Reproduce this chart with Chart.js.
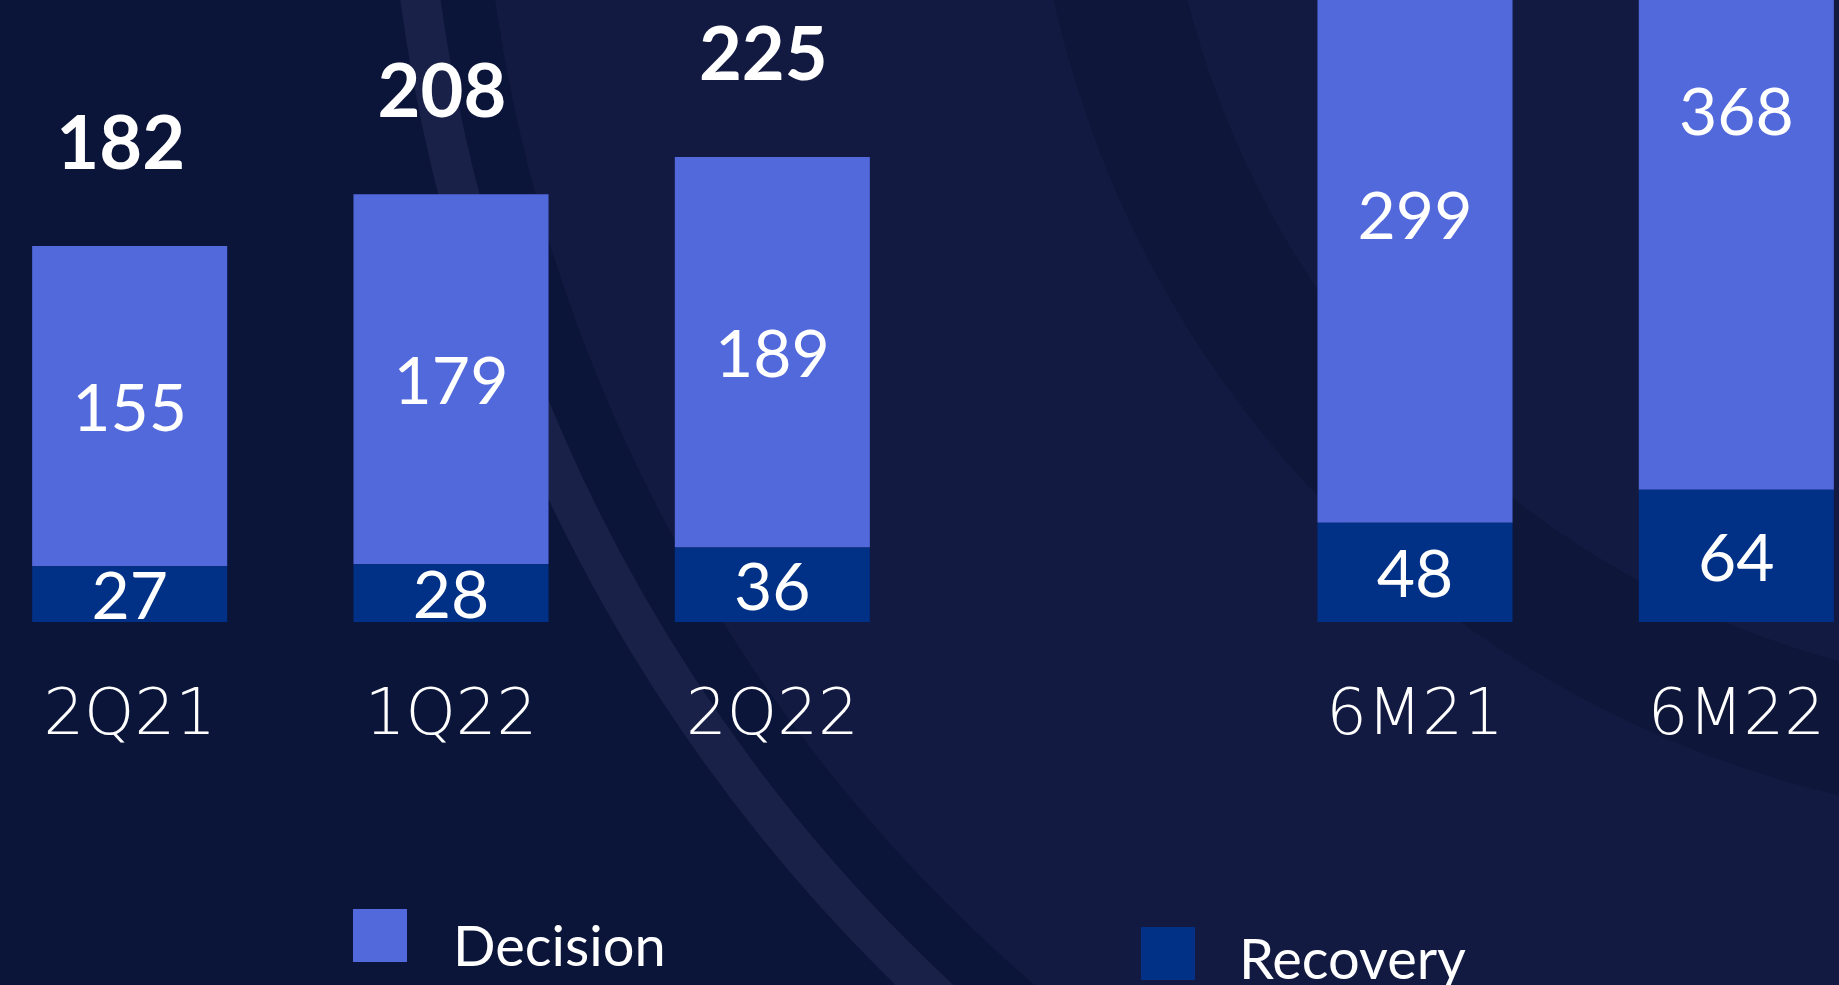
<!DOCTYPE html>
<html><head><meta charset="utf-8">
<script src="https://cdn.jsdelivr.net/npm/chart.js@4/dist/chart.umd.min.js"></script>
<style>
html,body{margin:0;padding:0;width:1839px;height:985px;overflow:hidden;background:#0B1439;}
#bg{position:absolute;left:0;top:0;width:1839px;height:985px;overflow:hidden;}
.circ{position:absolute;border-radius:50%;box-sizing:border-box;}
#wrap{position:absolute;left:-31px;top:0;width:1928px;height:985px;}
</style></head>
<body>
<div id="bg">
  <div class="circ" style="left:479px;top:-1827px;width:3200px;height:3200px;background:#131A41;"></div>
  <div class="circ" style="left:385px;top:-1921px;width:3388px;height:3388px;border:40px solid #192148;"></div>
  <div class="circ" style="left:1029px;top:-1277px;width:2100px;height:2100px;border:130px solid #0E1639;"></div>
</div>
<div id="wrap"><canvas id="c" width="1928" height="985"></canvas></div>
<script>
const categories = ['2Q21', '1Q22', '2Q22', '', '6M21', '6M22'];
const decision = [155, 179, 189, null, 299, 368];
const recovery = [27, 28, 36, null, 48, 64];
const totals = [182, 208, 225, null, 347, 432];
const seriesNames = ['Decision', 'Recovery'];
const decisionColor = '#5269DB';
const recoveryColor = '#003186';

const labelPlugin = {
  id: 'labels',
  afterDatasetsDraw(chart) {
    const ctx = chart.ctx;
    ctx.save();
    ctx.fillStyle = '#FFFFFF';
    ctx.textAlign = 'center';
    ctx.textBaseline = 'alphabetic';
    ctx.font = '400 66px Lato, "Open Sans", sans-serif';
    chart.data.datasets.forEach((ds, di) => {
      const meta = chart.getDatasetMeta(di);
      meta.data.forEach((el, i) => {
        const v = ds.data[i];
        if (v === null || v === undefined) return;
        const cy = (el.y + el.base) / 2;
        ctx.fillText(String(v), el.x, cy + 25);
      });
    });
    const topMeta = chart.getDatasetMeta(1);
    ctx.font = '700 74px Lato, "Open Sans", sans-serif';
    topMeta.data.forEach((el, i) => {
      const t = totals[i];
      if (t === null || t === undefined) return;
      ctx.fillText(String(t), el.x - 9, el.y - 77);
    });
    ctx.restore();
  },
  afterDraw(chart) {
    const ctx = chart.ctx;
    ctx.save();
    const items = [
      { ds: 1, sx: 384, sy: 909, tx: 484, ty: 966 },
      { ds: 0, sx: 1172, sy: 927, tx: 1270, ty: 979 }
    ];
    ctx.font = '400 56px Lato, "Open Sans", sans-serif';
    ctx.textAlign = 'left';
    ctx.textBaseline = 'alphabetic';
    items.forEach(it => {
      const ds = chart.data.datasets[it.ds];
      ctx.fillStyle = ds.backgroundColor;
      ctx.fillRect(it.sx, it.sy, 54, 53);
      ctx.fillStyle = '#FFFFFF';
      ctx.fillText(ds.label, it.tx, it.ty);
    });
    ctx.restore();
  }
};

new Chart(document.getElementById('c'), {
  type: 'bar',
  data: {
    labels: categories,
    datasets: [
      { label: seriesNames[1], data: recovery, backgroundColor: recoveryColor, borderWidth: 0 },
      { label: seriesNames[0], data: decision, backgroundColor: decisionColor, borderWidth: 0 }
    ]
  },
  options: {
    responsive: false,
    animation: false,
    devicePixelRatio: 1,
    layout: { padding: 0 },
    datasets: { bar: { categoryPercentage: 1, barPercentage: 0.607 } },
    plugins: { legend: { display: false }, tooltip: { enabled: false } },
    scales: {
      x: {
        stacked: true,
        grid: { display: false, drawTicks: false },
        border: { display: false },
        ticks: {
          color: '#FFFFFF',
          font: { family: '"DejaVu Sans", Inter, sans-serif', size: 64, weight: 200 },
          padding: 57,
          maxRotation: 0,
          autoSkip: false
        },
        afterFit(s) { s.height = 363; }
      },
      y: { stacked: true, display: false, min: 0, max: 301 }
    }
  },
  plugins: [labelPlugin]
});
</script>
</body></html>
